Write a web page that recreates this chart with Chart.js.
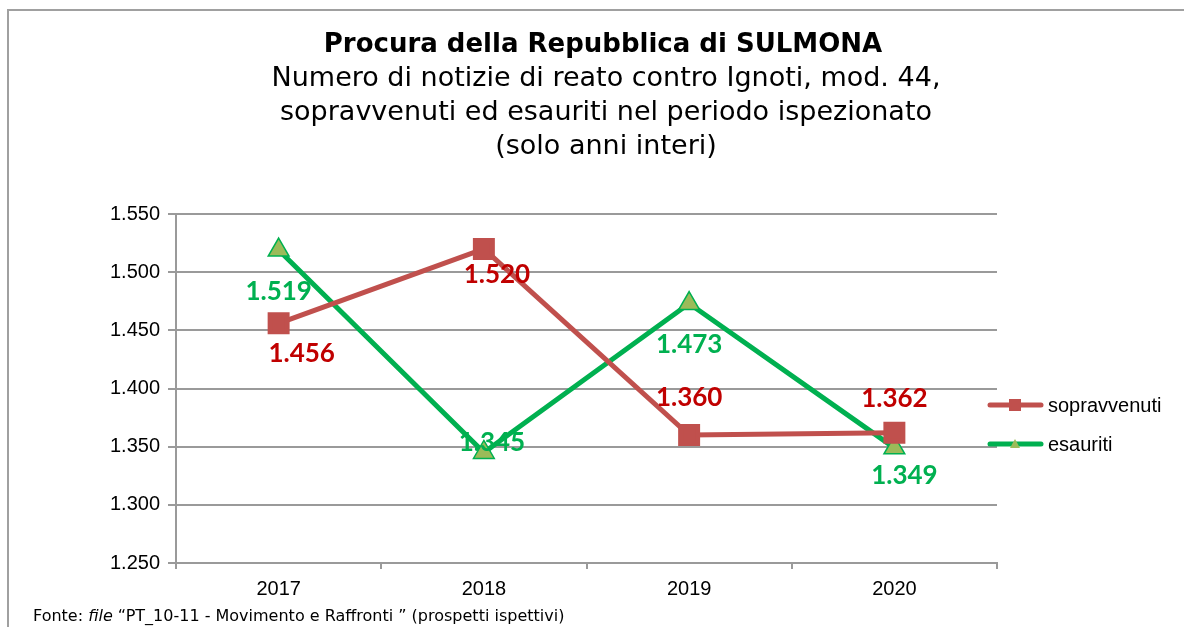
<!DOCTYPE html>
<html>
<head>
  <meta charset="utf-8">
  <title>Procura della Repubblica di SULMONA</title>
  <script src="https://cdn.jsdelivr.net/npm/chart.js"></script>
  <style>
    html, body { margin: 0; padding: 0; background: #fff; }
    #wrap { width: 1184px; height: 627px; position: relative; }
  </style>
</head>
<body>
  <div id="wrap"><canvas id="chart" width="1184" height="627"></canvas></div>

  <script>
    const years = ['2017', '2018', '2019', '2020'];
    const sopravvenuti = [1456, 1520, 1360, 1362];
    const esauriti = [1519, 1345, 1473, 1349];
    const yTicks = [1250, 1300, 1350, 1400, 1450, 1500, 1550];

    const titleLines = [
      'Numero di notizie di reato contro Ignoti, mod. 44,',
      'sopravvenuti ed esauriti nel periodo ispezionato',
      '(solo anni interi)'
    ];

    const fmt = v => v.toLocaleString('it-IT').replace(/\u00a0/g, '');
    const grid = '#9a9a9a';

    // where each value label sits relative to its point
    const labelOffsets = [
      [[23, 30], [13, 26], [0, -37], [0, -34]],
      [[0, 42], [8, -10], [0, 41], [10, 28]]
    ];
    const labelColors = ['#C00000', '#00B050'];

    const decor = {
      id: 'decor',
      beforeDraw(chart) {
        const ctx = chart.ctx;
        ctx.save();
        ctx.fillStyle = '#fff';
        ctx.fillRect(0, 0, chart.width, chart.height);
        ctx.strokeStyle = '#a0a0a0';
        ctx.lineWidth = 2;
        ctx.beginPath();
        ctx.moveTo(8, 640);
        ctx.lineTo(8, 10);
        ctx.lineTo(1184, 10);
        ctx.stroke();

        ctx.fillStyle = '#000';
        ctx.textAlign = 'center';
        ctx.textBaseline = 'middle';
        ctx.font = 'bold 26px "DejaVu Sans"';
        ctx.fillText('Procura della Repubblica di SULMONA', 603, 45);
        ctx.font = '27px "DejaVu Sans"';
        titleLines.forEach((t, i) => ctx.fillText(t, 606, 79 + i * 34));

        ctx.textAlign = 'left';
        ctx.font = '16px "DejaVu Sans"';
        let x = 33;
        const y = 617;
        ctx.fillText('Fonte: ', x, y);
        x += ctx.measureText('Fonte: ').width;
        ctx.font = 'italic 16px "DejaVu Sans"';
        ctx.fillText('file', x, y);
        x += ctx.measureText('file').width;
        ctx.font = '16px "DejaVu Sans"';
        ctx.fillText(' \u201cPT_10-11 - Movimento e Raffronti \u201d (prospetti ispettivi)', x, y);
        ctx.restore();
      },
      afterDatasetsDraw(chart) {
        const ctx = chart.ctx;
        ctx.save();
        ctx.font = 'bold 26px Lato';
        ctx.textAlign = 'center';
        ctx.textBaseline = 'middle';
        chart.data.datasets.forEach((ds, di) => {
          const meta = chart.getDatasetMeta(di);
          ctx.fillStyle = labelColors[di];
          meta.data.forEach((pt, i) => {
            const [dx, dy] = labelOffsets[di][i];
            ctx.fillText(fmt(ds.data[i]), pt.x + dx, pt.y + dy);
          });
        });

        // legend
        const rows = [405, 444];
        ctx.font = '20px "Liberation Sans"';
        ctx.textAlign = 'left';
        chart.data.datasets.forEach((ds, di) => {
          const y = rows[di];
          ctx.strokeStyle = ds.borderColor;
          ctx.lineWidth = 5;
          ctx.lineCap = 'round';
          ctx.beginPath();
          ctx.moveTo(990, y);
          ctx.lineTo(1041, y);
          ctx.stroke();
          ctx.fillStyle = ds.pointBackgroundColor;
          if (di === 0) {
            ctx.fillRect(1009, y - 6, 12, 12);
          } else {
            ctx.beginPath();
            ctx.moveTo(1015, y - 5);
            ctx.lineTo(1020, y + 4);
            ctx.lineTo(1010, y + 4);
            ctx.closePath();
            ctx.fill();
          }
          ctx.fillStyle = '#000';
          ctx.fillText(ds.label, 1048, y + 1);
        });
        ctx.restore();
      }
    };

    new Chart(document.getElementById('chart'), {
      type: 'line',
      data: {
        labels: years,
        datasets: [{
          label: 'sopravvenuti',
          data: sopravvenuti,
          borderColor: '#C0504D',
          backgroundColor: '#C0504D',
          pointBackgroundColor: '#C0504D',
          pointBorderColor: '#C0504D',
          pointStyle: 'rect',
          pointRadius: 12,
          borderWidth: 5,
          tension: 0
        }, {
          label: 'esauriti',
          data: esauriti,
          borderColor: '#00B050',
          backgroundColor: '#9BBB59',
          pointBackgroundColor: '#9BBB59',
          pointBorderColor: '#00B050',
          pointBorderWidth: 1.5,
          pointStyle: 'triangle',
          pointRadius: 12,
          borderWidth: 5,
          tension: 0
        }]
      },
      options: {
        responsive: false,
        animation: false,
        layout: { padding: { top: 214, right: 187, left: 0, bottom: 0 } },
        plugins: {
          legend: { display: false },
          title: { display: false },
          tooltip: { enabled: false }
        },
        scales: {
          x: {
            offset: true,
            afterFit: s => { s.height = 64; },
            grid: {
              offset: true,
              drawOnChartArea: false,
              drawTicks: true,
              tickLength: 6,
              color: grid,
              lineWidth: 2
            },
            border: { color: grid, width: 2 },
            ticks: {
              color: '#000',
              padding: 8,
              font: { family: 'Liberation Sans', size: 20 }
            }
          },
          y: {
            min: 1250,
            max: 1550,
            afterFit: s => { s.width = 176; },
            afterBuildTicks: s => { s.ticks = yTicks.map(v => ({ value: v })); },
            grid: {
              color: grid,
              lineWidth: 2,
              tickLength: 8
            },
            border: { color: grid, width: 2 },
            ticks: {
              color: '#000',
              padding: 8,
              font: { family: 'Liberation Sans', size: 20 },
              callback: v => fmt(v)
            }
          }
        }
      },
      plugins: [decor]
    });
  </script>
</body>
</html>
